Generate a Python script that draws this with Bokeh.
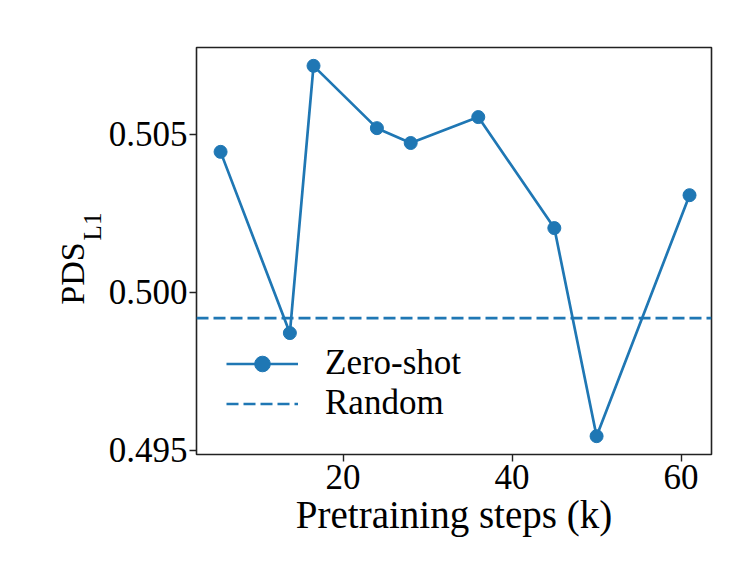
import math
from bokeh.plotting import figure
from bokeh.layouts import row
from bokeh.models import (Range1d, FixedTicker, PrintfTickFormatter, Legend,
                          LegendItem, ColumnDataSource)
from bokeh.core.properties import value
from bokeh.embed import file_html
from bokeh.resources import INLINE

# ---- data ----
steps_k = [5.5, 13.7, 16.5, 24.0, 28.0, 36.0, 45.0, 50.0, 61.0]
zero_shot = [0.50444, 0.49871, 0.50716, 0.50519, 0.50472, 0.50554, 0.50203, 0.49545, 0.50307]
random_baseline = 0.49918
x_ticks = [20, 40, 60]
y_ticks = [0.495, 0.500, 0.505]
y_label_main = "PDS"
y_label_sub = "L1"

# ---- layout / style ----
X_START, X_END = 2.65, 63.6
Y_START, Y_END = 0.49487, 0.50774
BLUE = "#1f77b4"
FONT = "Liberation Serif"
W, H = 737, 570
LW = 105                      # width of the strip holding the y-axis title
BL, BR, BT, BB = 196, 26, 47, 116

# strip on the left carrying the y-axis title; its frame is aligned with the
# main frame (rows align frames), so y = H - page_y inside it
lab = figure(width=LW, height=H, output_backend="svg", toolbar_location=None,
             x_range=Range1d(0, LW), y_range=Range1d(BB, H - BT),
             x_axis_type=None, y_axis_type=None,
             min_border_left=0, min_border_right=0, min_border_top=BT,
             min_border_bottom=BB)
lab.outline_line_color = None
lab.xgrid.visible = False
lab.ygrid.visible = False
lab.background_fill_color = "white"
lab.border_fill_color = "white"
lab.text(x=[72], y=[H - 273], text=[y_label_main], angle=math.pi / 2,
         text_font=value(FONT), text_font_size=value("34px"),
         text_align="center", text_baseline="middle", text_color="black")
lab.text(x=[92], y=[H - 226], text=[y_label_sub], angle=math.pi / 2,
         text_font=value(FONT), text_font_size=value("25px"),
         text_align="center", text_baseline="middle", text_color="black")

p = figure(width=W - LW, height=H, output_backend="svg", toolbar_location=None,
           x_range=Range1d(X_START, X_END), y_range=Range1d(Y_START, Y_END),
           min_border_left=BL - LW, min_border_right=BR, min_border_top=BT,
           min_border_bottom=BB)

p.xgrid.visible = False
p.ygrid.visible = False
p.outline_line_color = "#222222"
p.outline_line_width = 1.6
p.background_fill_color = "white"
p.border_fill_color = "white"

for ax in (p.xaxis[0], p.yaxis[0]):
    ax.axis_line_color = None
    ax.major_tick_line_color = "#222222"
    ax.major_tick_line_width = 1.4
    ax.major_tick_out = 7
    ax.major_tick_in = 0
    ax.minor_tick_line_color = None
    ax.major_label_text_font = FONT
    ax.major_label_text_font_size = "35px"
    ax.major_label_text_color = "black"

p.xaxis.ticker = FixedTicker(ticks=x_ticks)
p.yaxis.ticker = FixedTicker(ticks=y_ticks)
p.yaxis.formatter = PrintfTickFormatter(format="%.3f")
p.xaxis.major_label_standoff = 3
p.yaxis.major_label_standoff = 2

p.xaxis.axis_label = "Pretraining steps (k)"
p.xaxis.axis_label_text_font = FONT
p.xaxis.axis_label_text_font_size = "39px"
p.xaxis.axis_label_text_font_style = "normal"
p.xaxis.axis_label_text_color = "black"
p.xaxis.axis_label_standoff = 1

# random baseline across the full x range
rand_src = ColumnDataSource(dict(x=[X_START, X_END], y=[random_baseline, random_baseline]))
r_rand = p.line("x", "y", source=rand_src, line_color=BLUE, line_width=2.7,
                line_dash="12 5")

src = ColumnDataSource(dict(x=steps_k, y=zero_shot))
r_line = p.line("x", "y", source=src, line_color=BLUE, line_width=2.7)
r_pts = p.scatter("x", "y", source=src, size=13, fill_color=BLUE, line_color=BLUE)

legend = Legend(items=[LegendItem(label="Zero-shot", renderers=[r_line, r_pts]),
                       LegendItem(label="Random", renderers=[r_rand])],
                location=(30, 31), padding=0, spacing=0, margin=0,
                glyph_width=72, glyph_height=39, label_height=39,
                label_standoff=27,
                label_text_font=FONT, label_text_font_size="35px",
                label_text_color="black",
                border_line_alpha=0, background_fill_alpha=0)
p.add_layout(legend)

layout = row(lab, p)
open("out.html", "w").write(file_html(layout, INLINE))
